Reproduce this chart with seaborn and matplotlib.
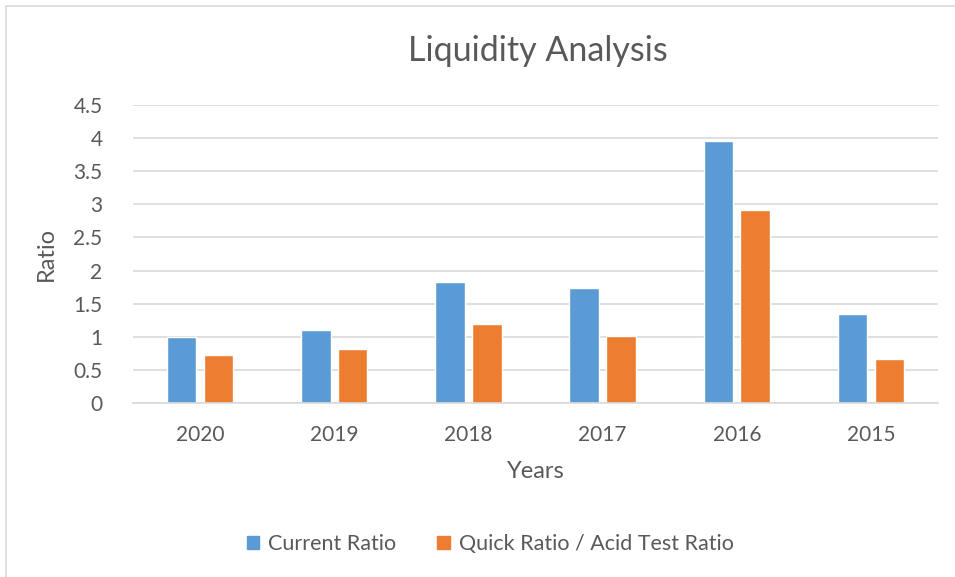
import matplotlib
matplotlib.use("Agg")
import matplotlib.pyplot as plt
import seaborn as sns
import pandas as pd
from matplotlib.patches import Rectangle

years = ["2020", "2019", "2018", "2017", "2016", "2015"]
current_ratio = [1.00, 1.10, 1.83, 1.74, 3.96, 1.34]
quick_ratio = [0.72, 0.81, 1.19, 1.01, 2.91, 0.66]
series_names = ["Current Ratio", "Quick Ratio / Acid Test Ratio"]
colors = ["#5B9BD5", "#ED7D31"]

df = pd.DataFrame({
    "Years": years * 2,
    "Ratio": current_ratio + quick_ratio,
    "Series": [series_names[0]] * len(years) + [series_names[1]] * len(years),
})

sns.set_theme(style="white")
plt.rcParams["font.family"] = ["Lato", "DejaVu Sans"]

W, H = 955, 577
fig = plt.figure(figsize=(W / 100, H / 100), dpi=100)
ax = fig.add_axes([133 / W, 1 - 403 / H, (938 - 133) / W, (403 - 105) / H])

sns.barplot(data=df, x="Years", y="Ratio", hue="Series", order=years,
            hue_order=series_names, palette=colors, width=0.55, gap=0.2,
            saturation=1, ax=ax, legend=False)

ax.set_ylim(0, 4.5)
ax.set_xlim(-0.5, len(years) - 0.5)
ax.set_yticks([0, 0.5, 1, 1.5, 2, 2.5, 3, 3.5, 4, 4.5])
ax.set_yticklabels(["0", "0.5", "1", "1.5", "2", "2.5", "3", "3.5", "4", "4.5"])
ax.yaxis.grid(True, color="#D9D9D9", linewidth=1.2)
ax.set_axisbelow(True)
for s in ["top", "right", "left"]:
    ax.spines[s].set_visible(False)
ax.spines["bottom"].set_color("#D9D9D9")
ax.spines["bottom"].set_linewidth(1.2)
ax.tick_params(axis="both", length=0, labelsize=15, colors="#595959")
ax.tick_params(axis="x", pad=16)
ax.tick_params(axis="y", pad=22)
ax.set_xlabel("Years", fontsize=17, color="#595959", labelpad=11)
ax.set_ylabel("Ratio", fontsize=17, color="#595959", labelpad=12)

fig.text(538 / W, 1 - 51 / H, "Liquidity Analysis", ha="center", va="center",
         fontsize=24.5, color="#595959")

# legend
handles = [Rectangle((0, 0), 1, 1, color=c) for c in colors]
fig.legend(handles, series_names, loc="center", bbox_to_anchor=(490 / W, 1 - 544 / H),
           ncol=2, frameon=False, fontsize=15.5, handlelength=0.6, handleheight=0.6,
           handletextpad=0.4, columnspacing=1.9, labelcolor="#595959")

# chart border
fig.patches.append(Rectangle((6 / W, -0.01), 1.0, 1 - 6 / H + 0.01,
                             transform=fig.transFigure, fill=False,
                             edgecolor="#D9D9D9", linewidth=1.2))

fig.savefig("out.png", dpi=100)
